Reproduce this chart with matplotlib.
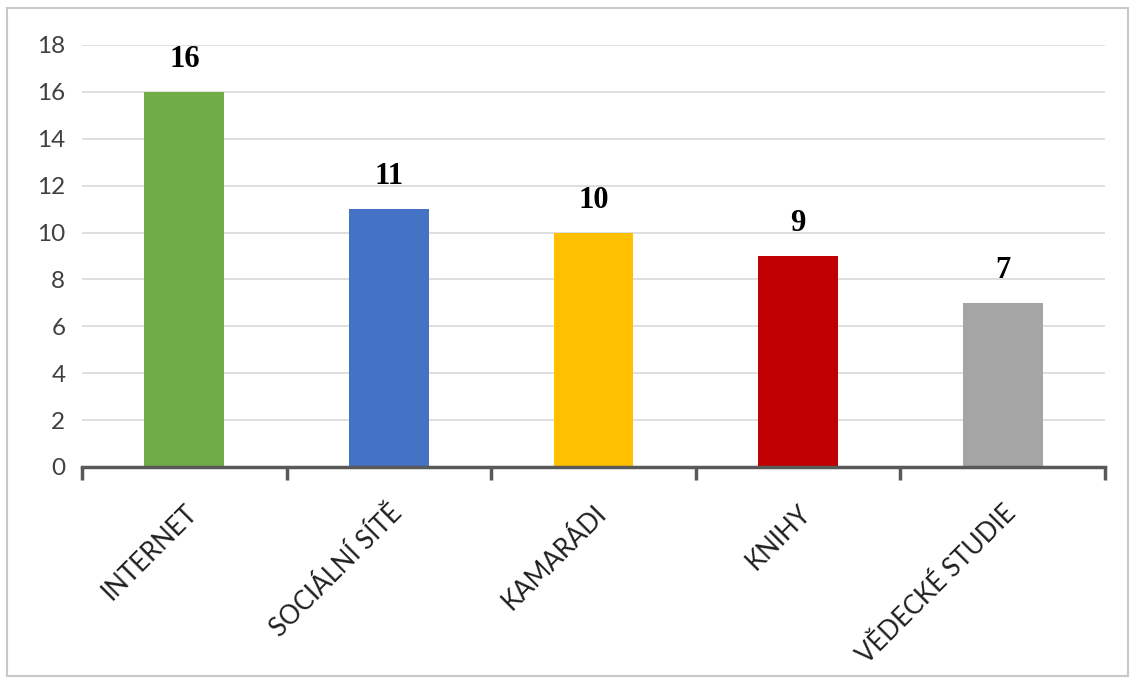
import matplotlib
matplotlib.use("Agg")
import matplotlib.pyplot as plt
from matplotlib.patches import Rectangle
import numpy as np

# data
categories = ["INTERNET", "SOCIÁLNÍ SÍTĚ", "KAMARÁDI", "KNIHY", "VĚDECKÉ STUDIE"]
values = [16, 11, 10, 9, 7]
colors = ["#70AD47", "#4472C4", "#FFC000", "#C00000", "#A5A5A5"]
yticks = [0, 2, 4, 6, 8, 10, 12, 14, 16, 18]

fig = plt.figure(figsize=(11.36, 6.84), dpi=100)
ax = fig.add_axes([0.0722, 0.3173, 0.9005, 0.617])

x = np.arange(len(categories))
ax.bar(x, values, width=0.39, color=colors, zorder=3)

for xi, v in zip(x, values):
    ax.text(xi, v + 0.75, str(v), ha="center", va="bottom",
            fontsize=22, fontweight="bold", family="Liberation Serif", color="black")

ax.set_xlim(-0.5, len(categories) - 0.5)
ax.set_ylim(0, 18)
ax.set_yticks(yticks)
ax.set_yticklabels([str(t) for t in yticks], fontsize=17.5, family="Lato", color="#404040")
ax.yaxis.grid(True, color="#D9D9D9", linewidth=1.2, zorder=0)
ax.tick_params(axis="y", length=0, pad=12)

# category labels
ax.set_xticks(x)
ax.set_xticklabels(categories, rotation=45, ha="right", rotation_mode="anchor",
                   fontsize=18.5, family="Lato", color="#202020")
ax.tick_params(axis="x", length=0, pad=24)
# tick marks at category boundaries
ax.set_xticks(np.arange(-0.5, len(categories)), minor=True)
ax.tick_params(axis="x", which="minor", length=9, width=2.5, color="#595959", direction="out")

for s in ["top", "right", "left"]:
    ax.spines[s].set_visible(False)
ax.spines["bottom"].set_color("#595959")
ax.spines["bottom"].set_linewidth(2.5)
ax.spines["bottom"].set_zorder(4)

# outer border
fig.patches.append(Rectangle((7 / 1136, 8 / 684), 1121 / 1136, 668 / 684,
                             transform=fig.transFigure, fill=False,
                             edgecolor="#C8C8C8", linewidth=1.5))

fig.savefig("out.png", dpi=100)
